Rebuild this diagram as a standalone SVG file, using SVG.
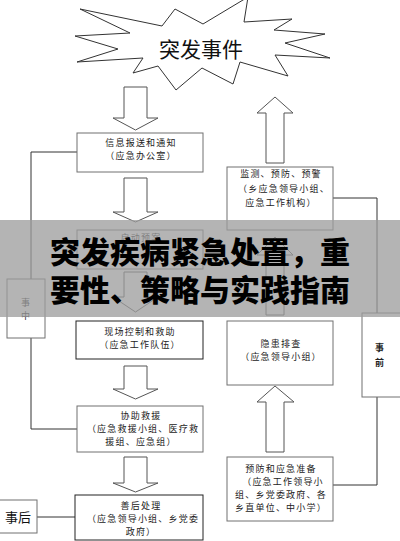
<svg xmlns="http://www.w3.org/2000/svg" width="400" height="541" viewBox="0 0 400 541">
<style>
.bg{fill:#fff}
.box{fill:#fff;stroke:#707070;stroke-width:1}
.dark{stroke:#222}
.arr{fill:#fff;stroke:#555;stroke-width:1}
.t{font-family:"Noto Sans CJK SC","Noto Sans",sans-serif;font-size:9px;fill:#222;text-anchor:middle;letter-spacing:1.2px}
.conn{fill:none;stroke:#333;stroke-width:1}
.banner{fill:#9d9d9d;opacity:0.76}
.bt{font-family:"Liberation Sans","Noto Sans CJK SC",sans-serif;font-size:30px;font-weight:900;fill:#000;text-anchor:middle}
</style>
<rect class="bg" x="0" y="0" width="400" height="541"/>
<g id="event">
<polygon points="80,9 162,26 175,9 203,24 248,-3 244,22 292,19 274,30 325,34 285,43 330,58 275,55 288,76 240,62 233,84 202,68 176,90 158,66 133,73 143,58 77,62 118,49 75,36 130,33" fill="#fff" stroke="#333" stroke-width="1"/>
<text x="201" y="57" font-family="Noto Sans CJK SC,sans-serif" font-size="21" fill="#111" text-anchor="middle">突发事件</text>
</g>
<g id="arrows">
<polygon class="arr" points="124,87 147,87 147,118 158,118 135.5,130 113,118 124,118"/>
<polygon class="arr" points="124,178 147,178 147,212 158,212 135.5,222 113,212 124,212"/>
<polygon class="arr" points="124,272 147,272 147,297 158,297 135.5,312 113,297 124,297"/>
<polygon class="arr" points="124,366 147,366 147,389 158,389 135.5,399 113,389 124,389"/>
<polygon class="arr" points="124,457 147,457 147,483 158,483 135.5,492 113,483 124,483"/>
<polygon class="arr" points="266,163 284,163 284,113 293,113 275,97 257,113 266,113"/>
<polygon class="arr" points="266,315 284,315 284,255 293,255 275,237 257,255 266,255"/>
<polygon class="arr" points="266,452 284,452 284,402 294,402 275,386 257,402 266,402"/>
</g>
<g id="connectors">
<path class="conn" d="M77,152 H31 V279"/>
<path class="conn" d="M31,338 V429 H77"/>
<path class="conn" d="M333,198 H377 V313"/>
<path class="conn" d="M377,397 V485 H333"/>
<path class="conn" d="M37,517 H75"/>
</g>
<g id="n-info">
<rect class="box" x="77" y="133" width="126" height="39"/>
<text class="t" x="141" y="146">信息报送和通知</text>
<text class="t" x="141" y="159">（应急办公室）</text>
</g>
<g id="n-plan">
<rect class="box" x="77" y="230" width="126" height="39"/>
<text class="t" x="141" y="240.5">启动预案</text>
</g>
<g id="n-control">
<rect class="box dark" x="76" y="321" width="127" height="38"/>
<text class="t" x="140" y="334.5">现场控制和救助</text>
<text class="t" x="140" y="347.5">（应急工作队伍）</text>
</g>
<g id="n-rescue">
<rect class="box" x="77" y="406" width="126" height="46"/>
<text class="t" x="141" y="418.5">协助救援</text>
<text class="t" x="143" y="431.5">（应急救援小组、医疗救</text>
<text class="t" x="141" y="444.5">援组、应急组）</text>
</g>
<g id="n-after">
<rect class="box dark" x="75" y="495" width="128" height="45"/>
<text class="t" x="141" y="508.5">善后处理</text>
<text class="t" x="143" y="521.5">（应急领导小组、乡党委</text>
<text class="t" x="141" y="534.5">政府）</text>
</g>
<g id="n-monitor">
<rect class="box" x="227" y="167" width="106" height="63"/>
<text class="t" x="281" y="176.5">监测、预防、预警</text>
<text class="t" x="284" y="191.5">（乡应急领导小组、</text>
<text class="t" x="281" y="205.5">应急工作机构）</text>
</g>
<g id="n-hazard">
<rect class="box" x="227" y="321" width="106" height="64" stroke="#555"/>
<text class="t" x="281" y="346.5">隐患排查</text>
<text class="t" x="281" y="359.5">（应急领导小组）</text>
</g>
<g id="n-prep">
<rect class="box" x="227" y="457" width="106" height="64"/>
<text class="t" x="281" y="471.5">预防和应急准备</text>
<text class="t" x="283" y="484.5">（应急工作领导小</text>
<text class="t" x="281" y="497.5">组、乡党委政府、各</text>
<text class="t" x="281" y="510.5">乡直单位、中小学）</text>
</g>
<g id="n-during">
<rect class="box" x="7" y="279" width="38" height="59" stroke="#333"/>
<text class="t" x="26" y="305.5" fill="#555">事</text>
<text class="t" x="26" y="319" fill="#555">中</text>
</g>
<g id="n-before">
<rect class="box" x="362" y="313" width="39" height="84" stroke="#555"/>
<text class="t" x="380" y="351" font-size="10" font-weight="bold">事</text>
<text class="t" x="380" y="366" font-size="10" font-weight="bold">前</text>
</g>
<g id="n-post">
<rect class="box" x="-1" y="500" width="38" height="33" stroke="#333"/>
<text x="18" y="522" font-family="Noto Sans CJK SC,sans-serif" font-size="13" fill="#111" text-anchor="middle">事后</text>
</g>
<g id="banner">
<rect class="banner" x="0" y="220" width="400" height="97"/>
<text class="bt" x="200" y="263">突发疾病紧急处置，重</text>
<text class="bt" x="200" y="301">要性、策略与实践指南</text>
</g>
</svg>
